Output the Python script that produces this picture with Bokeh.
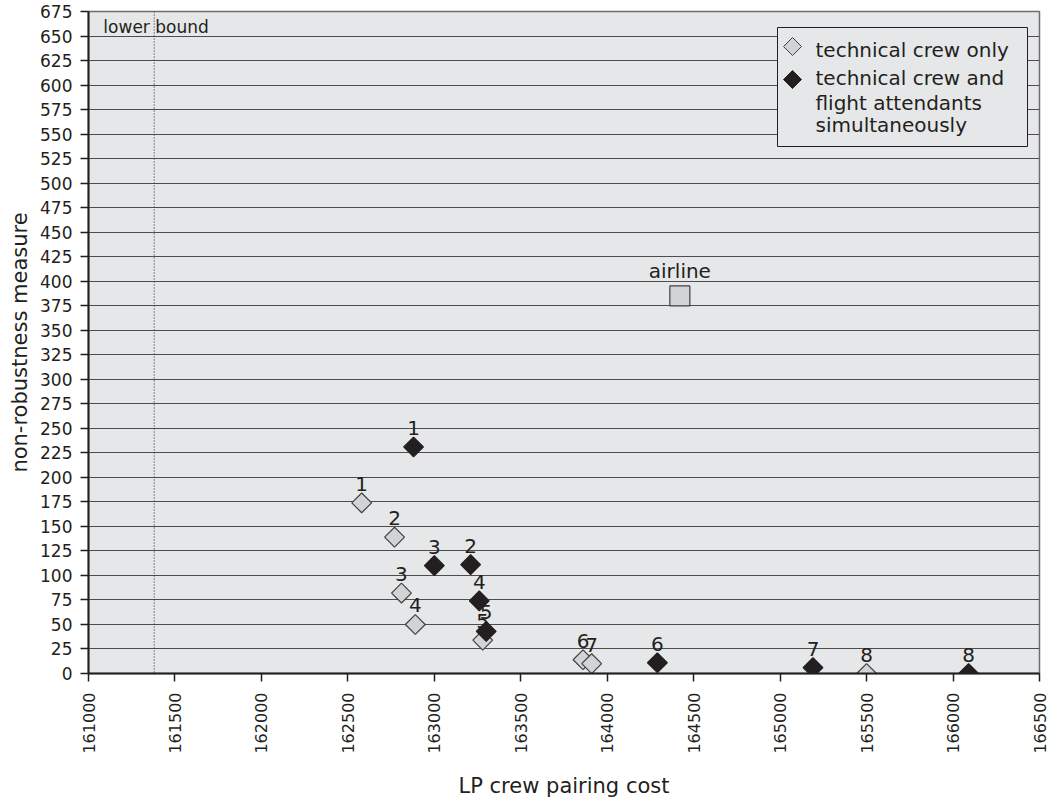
import math
from bokeh.plotting import figure
from bokeh.models import (ColumnDataSource, Range1d, FixedTicker, Span, Label,
                          BoxAnnotation, PolyAnnotation, NumeralTickFormatter)
from bokeh.core.properties import value
from bokeh.embed import file_html
from bokeh.resources import INLINE

# ---- data ----
tech_labels = ["1", "2", "3", "4", "5", "6", "7", "8"]
tech_cost = [162580, 162770, 162810, 162890, 163280, 163860, 163910, 165500]
tech_nonrob = [174, 139, 82, 50, 34, 14, 10, 0]

both_labels = ["1", "2", "3", "4", "5", "6", "7", "8"]
both_cost = [162880, 163210, 163000, 163260, 163300, 164290, 165190, 166090]
both_nonrob = [231, 111, 110, 74, 43, 11, 6, 0]

airline_cost = [164420]
airline_nonrob = [385]
airline_label = ["airline"]

lower_bound = 161380

x_ticks = list(range(161000, 166501, 500))
y_ticks = list(range(0, 676, 25))

legend_lines = ["technical crew only", "technical crew and",
                "flight attendants", "simultaneously"]

FONT = "DejaVu Sans"
TXT = "#231f20"
LIGHT = "#d1d3d4"
EDGE = "#414042"

p = figure(frame_width=951, frame_height=662, output_backend="svg",
           toolbar_location=None,
           x_range=Range1d(161000, 166500), y_range=Range1d(0, 675),
           min_border_left=88, min_border_right=10, min_border_top=11,
           min_border_bottom=110)

p.background_fill_color = "#e6e7e8"
p.border_fill_color = "white"
p.outline_line_color = "#6d6e71"
p.outline_line_width = 1.5

p.xgrid.visible = False
p.ygrid.ticker = FixedTicker(ticks=y_ticks)
p.ygrid.grid_line_color = "#4d4d4f"
p.ygrid.grid_line_width = 1

for ax in (p.xaxis[0], p.yaxis[0]):
    ax.axis_line_color = TXT
    ax.axis_line_width = 2
    ax.major_tick_line_color = TXT
    ax.major_tick_line_width = 1.5
    ax.major_tick_out = 8
    ax.major_tick_in = 0
    ax.minor_tick_line_color = None
    ax.major_label_text_font = FONT
    ax.major_label_text_font_size = "17px"
    ax.major_label_text_color = TXT
    ax.axis_label_text_font = FONT
    ax.axis_label_text_font_size = "21px"
    ax.axis_label_text_font_style = "normal"
    ax.axis_label_text_color = TXT

p.xaxis.ticker = FixedTicker(ticks=x_ticks)
p.xaxis.formatter = NumeralTickFormatter(format="0")
p.xaxis.major_label_orientation = math.pi / 2
p.xaxis.major_label_text_font_size = "16px"
p.xaxis.major_label_standoff = 11
p.xaxis.axis_label = "LP crew pairing cost"
p.xaxis.axis_label_standoff = 17

p.yaxis.ticker = FixedTicker(ticks=y_ticks)
p.yaxis.major_label_standoff = 8
p.yaxis.axis_label = "non-robustness measure"
p.yaxis.axis_label_standoff = 5

# lower bound
p.add_layout(Span(location=lower_bound, dimension="height", line_color=TXT,
                  line_width=1, line_dash="1 2"))
p.add_layout(Label(x=161086, y=659, text="lower bound", text_font=FONT,
                   text_font_size="17px", text_color=TXT,
                   text_baseline="middle"))

tech_src = ColumnDataSource(dict(x=tech_cost, y=tech_nonrob, lab=tech_labels))
both_src = ColumnDataSource(dict(x=both_cost, y=both_nonrob, lab=both_labels))
air_src = ColumnDataSource(dict(x=airline_cost, y=airline_nonrob, lab=airline_label))

p.scatter("x", "y", source=air_src, marker="square", size=20,
          fill_color=LIGHT, line_color=EDGE, line_width=1.2)
p.scatter("x", "y", source=tech_src, marker="square", size=14,
          angle=math.pi / 4, fill_color=LIGHT, line_color=EDGE, line_width=1.2)
p.scatter("x", "y", source=both_src, marker="square", size=14,
          angle=math.pi / 4, fill_color=TXT, line_color=TXT, line_width=1.2)

for src in (tech_src, both_src):
    p.text("x", "y", text="lab", source=src, text_font=value(FONT),
           text_font_size="20px", text_color=TXT, text_align="center",
           text_baseline="alphabetic", y_offset=-19)

p.text("x", "y", text="lab", source=air_src, text_font=value(FONT),
       text_font_size="20px", text_color=TXT, text_align="center",
       text_baseline="alphabetic", y_offset=-25)

# ---- legend (screen units, measured from the frame's bottom-left) ----
LX0, LX1, LY0, LY1 = 689, 939, 527, 646
p.add_layout(BoxAnnotation(left=LX0, right=LX1, bottom=LY0, top=LY1,
                           left_units="screen", right_units="screen",
                           bottom_units="screen", top_units="screen",
                           fill_color="#e6e7e8", fill_alpha=1,
                           line_color=TXT, line_width=1, line_alpha=1))
gx, hr = 704, 9
for gy, fill, edge in ((627, LIGHT, EDGE), (594, TXT, TXT)):
    p.add_layout(PolyAnnotation(xs=[gx - hr, gx, gx + hr, gx],
                                ys=[gy, gy + hr, gy, gy - hr],
                                xs_units="screen", ys_units="screen",
                                fill_color=fill, fill_alpha=1,
                                line_color=edge, line_width=1, line_alpha=1))
for txt, ty in zip(legend_lines, (624, 596, 571, 549)):
    p.add_layout(Label(x=727, y=ty, x_units="screen", y_units="screen",
                       text=txt, text_font=FONT, text_font_size="20px",
                       text_color=TXT, text_baseline="middle"))

open("out.html", "w").write(file_html(p, INLINE))
